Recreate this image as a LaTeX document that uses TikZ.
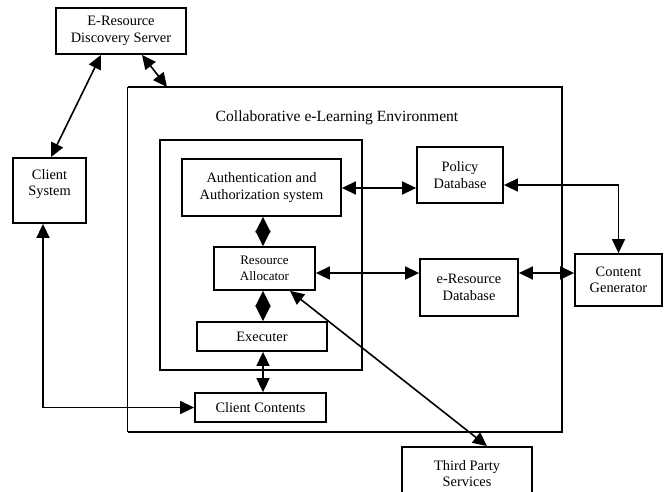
\documentclass[tikz,border=0pt]{standalone}
\usepackage{fontspec}
\setmainfont{Liberation Serif}
\usetikzlibrary{arrows.meta,calc}
\begin{document}
\begin{tikzpicture}[x=1pt,y=-1pt,
  box/.style={draw,line width=1.8pt,inner sep=0pt,align=center,font=\fontsize{14.4}{16.5}\selectfont},
  smallbox/.style={box,font=\fontsize{13}{15.5}\selectfont},
  conn/.style={line width=1.6pt,>={Triangle[length=14pt,width=13pt]},<->},
  diam/.style={line width=1.6pt,>={Triangle[length=15.5pt,width=15pt]},<->}]
\useasboundingbox (0,0) rectangle (667,491);
\clip (0,0) rectangle (667,491);
% outer environment
\node[minimum width=434pt,minimum height=345pt,inner sep=0pt] (env) at (345,259.5) {};
\draw[line width=1.8pt] (env.south west) -- (env.south east) -- (env.north east) -- (env.north west);
\draw[line width=1pt] (env.north west) -- (env.south west);
\node[font=\fontsize{15.6}{18}\selectfont] (title) at (337,118) {Collaborative e-Learning Environment};
\node[box,minimum width=202pt,minimum height=230pt] (inner) at (261,255) {};
% boxes
\node[box,minimum width=130pt,minimum height=46pt] (ds) at (121,31) {E-Resource\\Discovery Server};
\node[box,minimum width=73pt,minimum height=65pt] (cs) at (49.5,190.5) {};
\node[align=center,font=\fontsize{14.4}{16.5}\selectfont] (cst) at (49.5,184) {Client\\System};
\node[box,minimum width=159pt,minimum height=57pt] (auth) at (261.5,187.5) {Authentication and\\Authorization system};
\node[box,minimum width=86pt,minimum height=56pt] (pol) at (460,175) {Policy\\Database};
\node[smallbox,minimum width=101pt,minimum height=43pt] (ra) at (264.5,268.5) {Resource\\Allocator};
\node[box,minimum width=130pt,minimum height=29pt] (ex) at (262,336.5) {Executer};
\node[box,minimum width=131pt,minimum height=29pt] (cc) at (260.5,407.5) {Client Contents};
\node[box,minimum width=98pt,minimum height=57pt] (erd) at (469,287.5) {e-Resource\\Database};
\node[box,minimum width=87pt,minimum height=52pt] (cg) at (618.5,280) {Content\\Generator};
\node[box,minimum width=130pt,minimum height=53pt] (tp) at (467,473.5) {Third Party\\Services};
\coordinate (envtop) at (167,87);
% connectors
\draw[conn] ([xshift=1.5pt]cs.north) -- ([xshift=-20pt]ds.south);
\draw[conn] ([xshift=21pt]ds.south) -- (envtop);
\draw[conn] (auth.east |- 0,188) -- (pol.west |- 0,188);
\draw[conn] (pol.east |- 0,185) -| (cg.north);
\draw[diam] (auth.south -| 263,0) -- (ra.north -| 263,0);
\draw[diam] (ra.south -| 263,0) -- (ex.north -| 263,0);
\draw[conn] (ex.south -| 263,0) -- (cc.north -| 263,0);
\draw[conn] ([xshift=-6.5pt]cs.south) |- (cc.west);
\draw[conn] (ra.east |- 0,273) -- (erd.west |- 0,273);
\draw[conn] (erd.east |- 0,273) -- (cg.west |- 0,273);
\draw[conn] ([xshift=25.5pt]ra.south) -- ([xshift=20pt]tp.north);
\end{tikzpicture}
\end{document}
